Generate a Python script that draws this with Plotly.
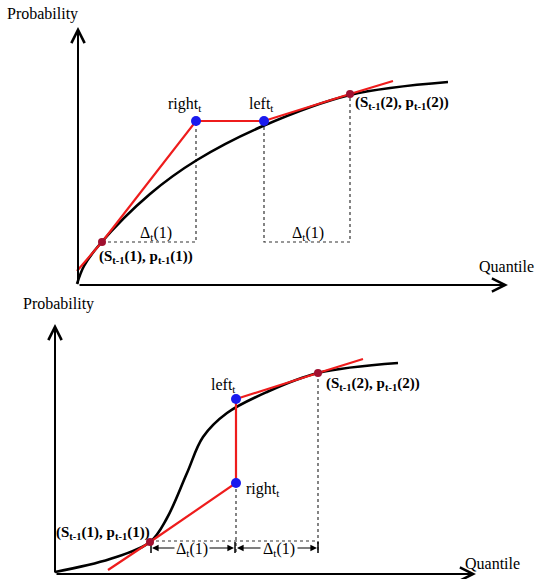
import plotly.graph_objects as go

# ---------------- data (diagram coordinates, pixel-like units) ----------------
# Top panel
top_curve_x = [77, 84, 100, 150, 197, 263, 350, 448]
top_curve_y = [284, 266, 244, 194, 160, 126, 95, 82]
top_red_x = [77, 102, 196, 264, 350, 393]
top_red_y = [271, 242, 121, 121, 94, 81]
top_blue_x = [196, 264]
top_blue_y = [121, 121]
top_pt_x = [102, 350]
top_pt_y = [242, 94]
top_dot1_x = [102, 196, 196]
top_dot1_y = [242, 242, 121]
top_dot2_x = [264, 264, 350, 350]
top_dot2_y = [121, 242, 242, 94]

# Bottom panel
bot_curve_x = [55, 110, 150, 167, 187, 203, 227, 267, 318, 398]
bot_curve_y = [572, 559, 542, 518, 473, 437, 413, 392, 373, 363]
bot_red_x = [108, 150, 236, 236, 318, 363]
bot_red_y = [570, 542, 483, 399, 373, 359]
bot_blue_x = [236, 236]
bot_blue_y = [483, 399]
bot_pt_x = [150, 318]
bot_pt_y = [542, 373]
bot_dot_h_x = [150, 318]
bot_dot_h_y = [541, 541]
bot_dot_v1_x = [236, 236]
bot_dot_v1_y = [483, 553]
bot_dot_v2_x = [318, 318]
bot_dot_v2_y = [373, 553]
bot_bar_x = [151, 235, 318]
bot_bar_y0 = 542
bot_bar_y1 = 553
# Delta arrows: (tail_x, tip_x) at row y
bot_arrow_y = 548
bot_arrows = [(176, 152), (208, 234), (262, 237), (296, 317)]

# Axes: (x0, y0, x1, y1) origin -> arrow tip
top_axes = [(78, 285, 78, 27), (78, 285, 508, 285)]
bot_axes = [(55, 574, 55, 324), (55, 574, 476, 574)]

# Text labels: (text, x, y, xanchor, size, bold)
labels = [
    ("Probability", 42, 14, "center", 16, False),
    ("Quantile", 506, 266, "center", 16, False),
    ("right<sub>t</sub>", 185, 104, "center", 16, False),
    ("left<sub>t</sub>", 261, 104, "center", 16, False),
    ("(S<sub>t-1</sub>(2), p<sub>t-1</sub>(2))", 353, 103, "left", 15, True),
    ("\u0394<sub>t</sub>(1)", 156, 233, "center", 16, False),
    ("\u0394<sub>t</sub>(1)", 308, 233, "center", 16, False),
    ("(S<sub>t-1</sub>(1), p<sub>t-1</sub>(1))", 97, 257, "left", 15, True),
    ("Probability", 58, 304, "center", 16, False),
    ("Quantile", 492, 563, "center", 16, False),
    ("left<sub>t</sub>", 223, 385, "center", 16, False),
    ("right<sub>t</sub>", 263, 489, "center", 16, False),
    ("(S<sub>t-1</sub>(2), p<sub>t-1</sub>(2))", 324, 384, "left", 15, True),
    ("(S<sub>t-1</sub>(1), p<sub>t-1</sub>(1))", 152, 533, "right", 15, True),
    ("\u0394<sub>t</sub>(1)", 192, 549, "center", 16, False),
    ("\u0394<sub>t</sub>(1)", 279, 549, "center", 16, False),
]

RED = "#ee1c1c"
BLUE = "#1a1aee"
DARKRED = "#a01030"
FONT = "Liberation Serif"

fig = go.Figure()


def line(x, y, color="black", width=1.0, dash=None, shape="linear"):
    fig.add_trace(go.Scatter(x=x, y=y, mode="lines", line=dict(color=color, width=width, dash=dash, shape=shape),
                             hoverinfo="skip", showlegend=False))


def pts(x, y, color, size):
    fig.add_trace(go.Scatter(x=x, y=y, mode="markers", marker=dict(color=color, size=size),
                             hoverinfo="skip", showlegend=False))


# dotted guides
for xs, ys in [(top_dot1_x, top_dot1_y), (top_dot2_x, top_dot2_y), (bot_dot_h_x, bot_dot_h_y),
               (bot_dot_v1_x, bot_dot_v1_y), (bot_dot_v2_x, bot_dot_v2_y)]:
    line(xs, ys, color="#333333", width=1.2, dash="dot")

# bars for delta arrows
for bx in bot_bar_x:
    line([bx, bx], [bot_bar_y0, bot_bar_y1], color="black", width=1.5)

# curves
line(top_curve_x, top_curve_y, color="black", width=2.6, shape="spline")
line(bot_curve_x, bot_curve_y, color="black", width=2.6, shape="spline")

# red piecewise lines
line(top_red_x, top_red_y, color=RED, width=2.2)
line(bot_red_x, bot_red_y, color=RED, width=2.2)

# points
pts(top_pt_x, top_pt_y, DARKRED, 8)
pts(bot_pt_x, bot_pt_y, DARKRED, 8)
pts(top_blue_x, top_blue_y, BLUE, 10)
pts(bot_blue_x, bot_blue_y, BLUE, 10)

annotations = []
# axes with chevron arrowheads
for (x0, y0, x1, y1) in top_axes + bot_axes:
    annotations.append(dict(x=x1, y=y1, ax=x0, ay=y0, xref="x", yref="y", axref="x", ayref="y",
                            text="", showarrow=True, arrowhead=5, arrowsize=1.3, arrowwidth=2,
                            arrowcolor="black", standoff=0, startstandoff=0))
# delta arrows
for (tx, hx) in bot_arrows:
    annotations.append(dict(x=hx, y=bot_arrow_y, ax=tx, ay=bot_arrow_y, xref="x", yref="y", axref="x",
                            ayref="y", text="", showarrow=True, arrowhead=2, arrowsize=1.1,
                            arrowwidth=1.2, arrowcolor="black", standoff=0))
# text
for (t, x, y, xa, sz, bold) in labels:
    annotations.append(dict(x=x, y=y, xref="x", yref="y", text=("<b>%s</b>" % t) if bold else t,
                            showarrow=False, xanchor=xa, yanchor="middle",
                            font=dict(family=FONT, size=sz, color="black")))

fig.update_layout(
    width=535, height=579,
    margin=dict(l=0, r=0, t=0, b=0),
    paper_bgcolor="white", plot_bgcolor="white",
    xaxis=dict(range=[0, 535], visible=False, fixedrange=True),
    yaxis=dict(range=[579, 0], visible=False, fixedrange=True),
    annotations=annotations,
    showlegend=False,
)

fig.write_html("out.html", config={"displayModeBar": False},
               post_script="document.body.style.margin='0';document.body.style.padding='0';")
